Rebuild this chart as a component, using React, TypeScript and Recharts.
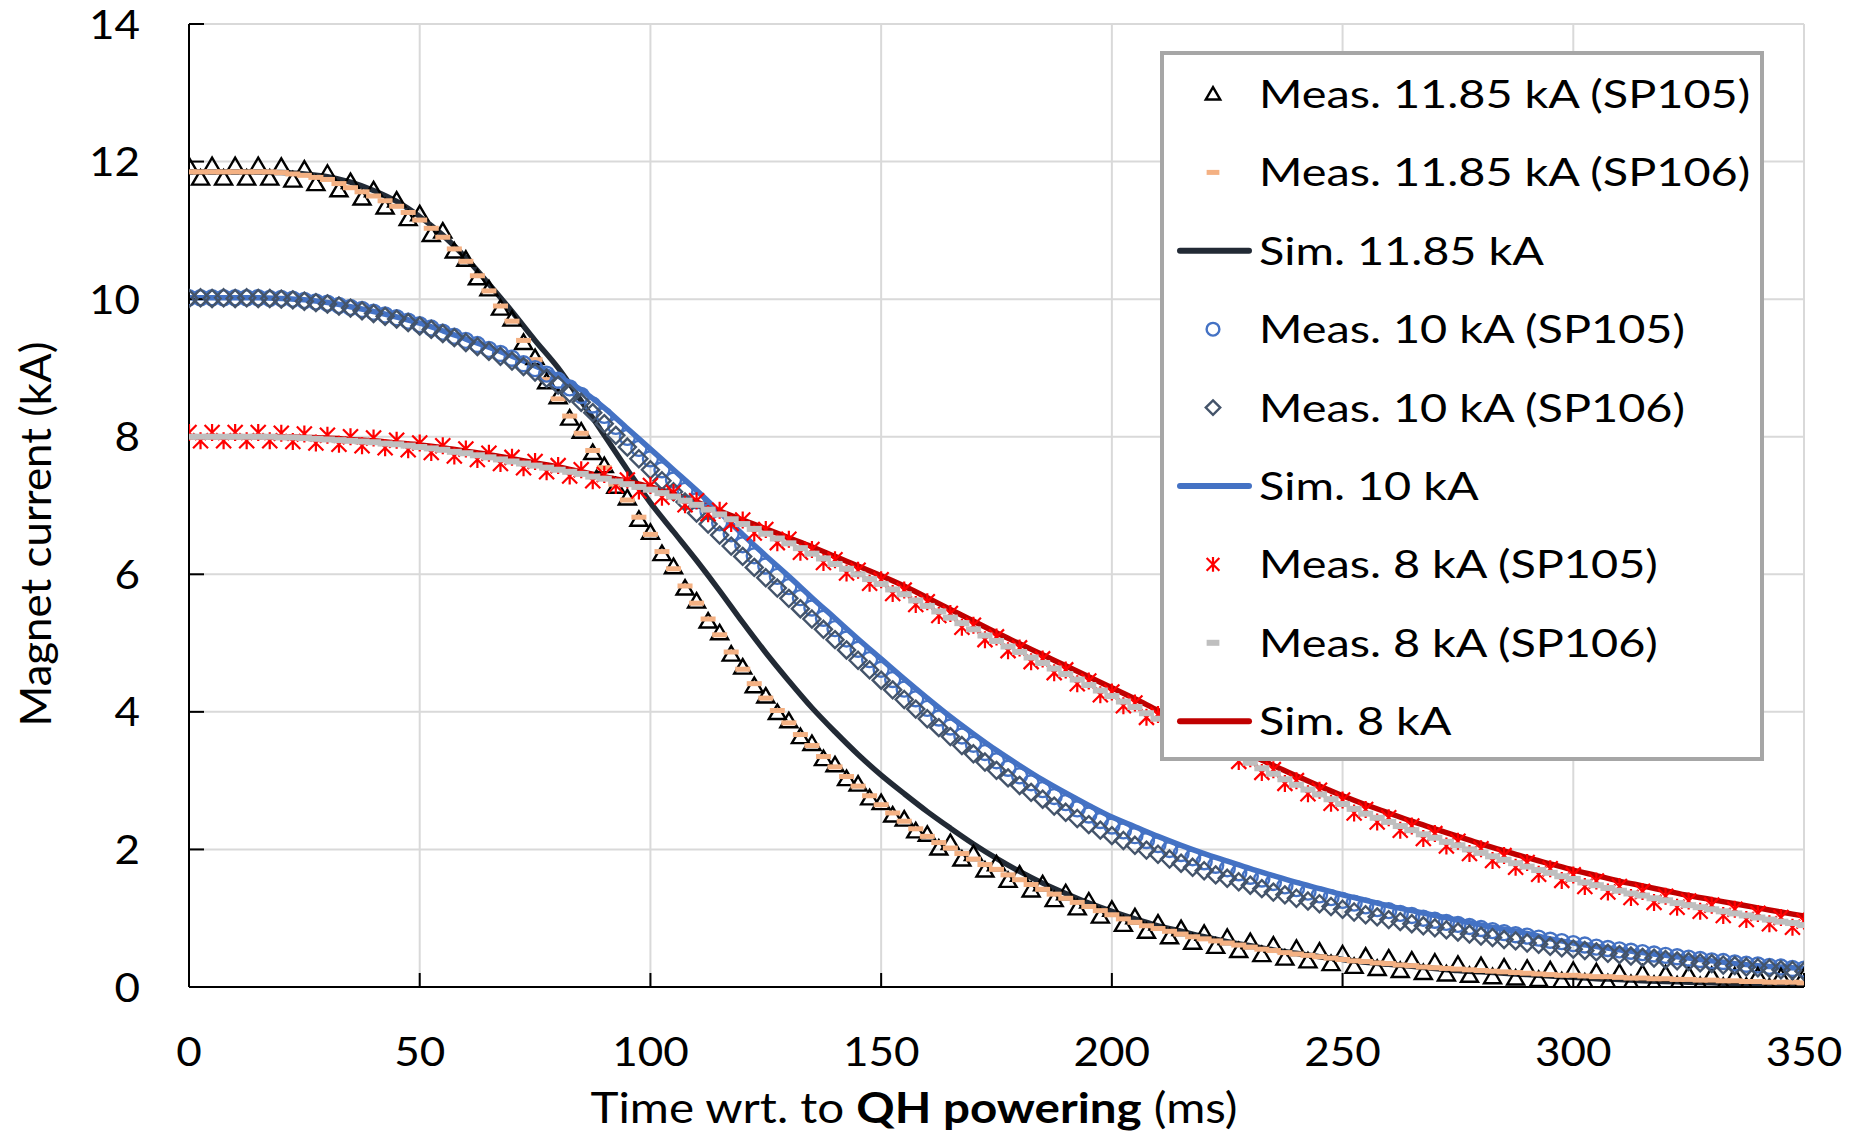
import React from 'react';
import { ComposedChart, Line, XAxis, YAxis, CartesianGrid } from 'recharts';

// sampling times (ms)
const measTime = [
  0, 2.5, 5, 7.5, 10, 12.5, 15, 17.5, 20, 22.5,
  25, 27.5, 30, 32.5, 35, 37.5, 40, 42.5, 45, 47.5,
  50, 52.5, 55, 57.5, 60, 62.5, 65, 67.5, 70, 72.5,
  75, 77.5, 80, 82.5, 85, 87.5, 90, 92.5, 95, 97.5,
  100, 102.5, 105, 107.5, 110, 112.5, 115, 117.5, 120, 122.5,
  125, 127.5, 130, 132.5, 135, 137.5, 140, 142.5, 145, 147.5,
  150, 152.5, 155, 157.5, 160, 162.5, 165, 167.5, 170, 172.5,
  175, 177.5, 180, 182.5, 185, 187.5, 190, 192.5, 195, 197.5,
  200, 202.5, 205, 207.5, 210, 212.5, 215, 217.5, 220, 222.5,
  225, 227.5, 230, 232.5, 235, 237.5, 240, 242.5, 245, 247.5,
  250, 252.5, 255, 257.5, 260, 262.5, 265, 267.5, 270, 272.5,
  275, 277.5, 280, 282.5, 285, 287.5, 290, 292.5, 295, 297.5,
  300, 302.5, 305, 307.5, 310, 312.5, 315, 317.5, 320, 322.5,
  325, 327.5, 330, 332.5, 335, 337.5, 340, 342.5, 345, 347.5,
  350,
];

const simTime = [
  0, 5, 10, 15, 20, 25, 30, 35, 40, 45,
  50, 55, 60, 65, 70, 75, 80, 85, 90, 95,
  100, 105, 110, 115, 120, 125, 130, 135, 140, 145,
  150, 155, 160, 165, 170, 175, 180, 185, 190, 195,
  200, 205, 210, 215, 220, 225, 230, 235, 240, 245,
  250, 255, 260, 265, 270, 275, 280, 285, 290, 295,
  300, 305, 310, 315, 320, 325, 330, 335, 340, 345,
  350,
];

// measured current (kA)
const meas1185SP105 = [
  11.94, 11.76, 11.94, 11.76, 11.94, 11.76, 11.94, 11.76, 11.93, 11.73,
  11.89, 11.68, 11.83, 11.59, 11.71, 11.47, 11.59, 11.34, 11.44, 11.17,
  11.24, 10.94, 10.99, 10.70, 10.58, 10.31, 10.15, 9.87, 9.71, 9.37,
  9.15, 8.80, 8.58, 8.27, 8.08, 7.77, 7.58, 7.28, 7.11, 6.80,
  6.61, 6.30, 6.11, 5.80, 5.61, 5.32, 5.15, 4.84, 4.65, 4.38,
  4.23, 3.99, 3.87, 3.64, 3.54, 3.32, 3.23, 3.03, 2.95, 2.75,
  2.68, 2.50, 2.44, 2.27, 2.22, 2.02, 2.10, 1.86, 1.94, 1.70,
  1.79, 1.55, 1.64, 1.41, 1.50, 1.27, 1.37, 1.15, 1.25, 1.03,
  1.13, 0.91, 1.02, 0.81, 0.93, 0.73, 0.85, 0.65, 0.78, 0.59,
  0.72, 0.53, 0.66, 0.47, 0.61, 0.42, 0.56, 0.38, 0.52, 0.34,
  0.48, 0.30, 0.45, 0.27, 0.42, 0.24, 0.39, 0.21, 0.36, 0.19,
  0.33, 0.17, 0.31, 0.15, 0.29, 0.13, 0.27, 0.11, 0.25, 0.09,
  0.24, 0.07, 0.22, 0.06, 0.21, 0.05, 0.20, 0.04, 0.19, 0.03,
  0.18, 0.02, 0.17, 0.01, 0.16, 0.01, 0.16, 0.00, 0.15, 0.00,
  0.15,
];

const meas1185SP106 = [
  11.85, 11.85, 11.85, 11.85, 11.85, 11.85, 11.85, 11.85, 11.84, 11.82,
  11.80, 11.77, 11.74, 11.68, 11.62, 11.56, 11.50, 11.43, 11.35, 11.26,
  11.15, 11.03, 10.90, 10.73, 10.55, 10.34, 10.12, 9.90, 9.68, 9.40,
  9.12, 8.83, 8.55, 8.30, 8.05, 7.80, 7.55, 7.31, 7.08, 6.83,
  6.58, 6.33, 6.08, 5.83, 5.58, 5.35, 5.12, 4.87, 4.62, 4.41,
  4.20, 4.02, 3.84, 3.67, 3.51, 3.35, 3.20, 3.06, 2.92, 2.78,
  2.65, 2.53, 2.41, 2.30, 2.19, 2.10, 2.02, 1.94, 1.86, 1.78,
  1.71, 1.63, 1.56, 1.49, 1.42, 1.35, 1.29, 1.23, 1.17, 1.11,
  1.05, 0.99, 0.94, 0.89, 0.85, 0.81, 0.77, 0.73, 0.70, 0.67,
  0.64, 0.61, 0.58, 0.55, 0.53, 0.50, 0.48, 0.46, 0.44, 0.42,
  0.40, 0.38, 0.37, 0.35, 0.34, 0.32, 0.31, 0.29, 0.28, 0.27,
  0.26, 0.25, 0.24, 0.23, 0.22, 0.21, 0.20, 0.19, 0.18, 0.17,
  0.17, 0.16, 0.15, 0.15, 0.14, 0.13, 0.13, 0.12, 0.12, 0.11,
  0.11, 0.10, 0.10, 0.09, 0.09, 0.08, 0.08, 0.07, 0.07, 0.07,
  0.06,
];

const meas10SP105 = [
  10.02, 10.02, 10.02, 10.02, 10.02, 10.02, 10.02, 10.01, 10.01, 10.00,
  9.98, 9.96, 9.94, 9.91, 9.88, 9.85, 9.81, 9.77, 9.73, 9.68,
  9.63, 9.58, 9.52, 9.46, 9.40, 9.34, 9.27, 9.21, 9.14, 9.06,
  8.99, 8.91, 8.82, 8.71, 8.60, 8.46, 8.31, 8.15, 7.99, 7.83,
  7.68, 7.52, 7.37, 7.22, 7.07, 6.91, 6.75, 6.59, 6.43, 6.27,
  6.12, 5.97, 5.82, 5.66, 5.51, 5.36, 5.21, 5.06, 4.91, 4.76,
  4.62, 4.47, 4.33, 4.19, 4.05, 3.91, 3.78, 3.65, 3.53, 3.41,
  3.29, 3.18, 3.07, 2.97, 2.87, 2.77, 2.68, 2.59, 2.50, 2.42,
  2.34, 2.27, 2.20, 2.13, 2.07, 2.00, 1.94, 1.88, 1.82, 1.77,
  1.72, 1.66, 1.61, 1.57, 1.52, 1.47, 1.43, 1.38, 1.34, 1.30,
  1.26, 1.22, 1.18, 1.14, 1.11, 1.07, 1.04, 1.00, 0.97, 0.94,
  0.91, 0.88, 0.85, 0.82, 0.79, 0.76, 0.74, 0.71, 0.68, 0.66,
  0.63, 0.61, 0.58, 0.56, 0.54, 0.52, 0.50, 0.48, 0.46, 0.44,
  0.42, 0.40, 0.38, 0.37, 0.35, 0.33, 0.32, 0.30, 0.29, 0.27,
  0.26,
];

const meas10SP106 = [
  10.01, 10.02, 10.01, 10.02, 10.01, 10.02, 10.01, 10.01, 10.00, 9.99,
  9.97, 9.95, 9.93, 9.90, 9.87, 9.83, 9.79, 9.75, 9.71, 9.66,
  9.61, 9.56, 9.50, 9.44, 9.37, 9.31, 9.24, 9.17, 9.10, 9.02,
  8.94, 8.85, 8.75, 8.63, 8.50, 8.35, 8.19, 8.02, 7.85, 7.68,
  7.52, 7.36, 7.20, 7.05, 6.89, 6.73, 6.57, 6.41, 6.26, 6.10,
  5.95, 5.80, 5.65, 5.50, 5.35, 5.20, 5.05, 4.90, 4.75, 4.61,
  4.46, 4.32, 4.18, 4.04, 3.90, 3.77, 3.64, 3.51, 3.39, 3.27,
  3.15, 3.04, 2.93, 2.83, 2.73, 2.63, 2.54, 2.45, 2.36, 2.28,
  2.20, 2.13, 2.06, 1.99, 1.93, 1.86, 1.80, 1.74, 1.69, 1.63,
  1.58, 1.53, 1.48, 1.43, 1.38, 1.34, 1.29, 1.25, 1.21, 1.17,
  1.13, 1.09, 1.05, 1.02, 0.98, 0.95, 0.92, 0.89, 0.86, 0.83,
  0.80, 0.77, 0.74, 0.72, 0.69, 0.67, 0.64, 0.62, 0.59, 0.57,
  0.55, 0.53, 0.51, 0.49, 0.47, 0.45, 0.43, 0.42, 0.40, 0.38,
  0.37, 0.35, 0.34, 0.32, 0.31, 0.29, 0.28, 0.27, 0.25, 0.24,
  0.23,
];

const meas8SP105 = [
  8.06, 7.94, 8.06, 7.94, 8.06, 7.94, 8.06, 7.94, 8.05, 7.93,
  8.04, 7.91, 8.02, 7.89, 8.00, 7.87, 7.98, 7.84, 7.95, 7.81,
  7.91, 7.77, 7.87, 7.72, 7.82, 7.67, 7.76, 7.61, 7.70, 7.55,
  7.64, 7.49, 7.58, 7.43, 7.52, 7.36, 7.45, 7.29, 7.37, 7.21,
  7.29, 7.12, 7.19, 7.01, 7.07, 6.88, 6.93, 6.74, 6.79, 6.60,
  6.65, 6.46, 6.51, 6.32, 6.36, 6.17, 6.21, 6.02, 6.06, 5.87,
  5.92, 5.72, 5.77, 5.56, 5.60, 5.40, 5.43, 5.23, 5.26, 5.05,
  5.09, 4.89, 4.93, 4.73, 4.77, 4.57, 4.61, 4.41, 4.45, 4.25,
  4.29, 4.09, 4.13, 3.92, 3.96, 3.76, 3.80, 3.60, 3.64, 3.44,
  3.48, 3.28, 3.32, 3.12, 3.16, 2.96, 3.00, 2.81, 2.86, 2.67,
  2.72, 2.53, 2.58, 2.40, 2.46, 2.28, 2.34, 2.16, 2.23, 2.05,
  2.12, 1.94, 2.01, 1.84, 1.91, 1.74, 1.81, 1.64, 1.72, 1.55,
  1.63, 1.46, 1.54, 1.38, 1.46, 1.30, 1.39, 1.23, 1.32, 1.16,
  1.25, 1.10, 1.19, 1.04, 1.13, 0.98, 1.07, 0.92, 1.01, 0.87,
  0.96,
];

const meas8SP106 = [
  8.00, 8.00, 8.00, 8.00, 8.00, 8.00, 8.00, 8.00, 7.99, 7.99,
  7.98, 7.97, 7.96, 7.95, 7.94, 7.93, 7.92, 7.90, 7.89, 7.87,
  7.85, 7.83, 7.81, 7.78, 7.76, 7.73, 7.70, 7.67, 7.64, 7.61,
  7.58, 7.55, 7.52, 7.49, 7.46, 7.42, 7.39, 7.35, 7.31, 7.27,
  7.23, 7.18, 7.13, 7.07, 7.01, 6.94, 6.87, 6.80, 6.73, 6.66,
  6.59, 6.52, 6.45, 6.38, 6.30, 6.23, 6.15, 6.08, 6.00, 5.93,
  5.86, 5.78, 5.71, 5.62, 5.54, 5.46, 5.37, 5.29, 5.20, 5.11,
  5.03, 4.95, 4.87, 4.79, 4.71, 4.63, 4.55, 4.47, 4.39, 4.31,
  4.23, 4.15, 4.07, 3.98, 3.90, 3.82, 3.74, 3.66, 3.58, 3.50,
  3.42, 3.34, 3.26, 3.18, 3.10, 3.02, 2.94, 2.87, 2.80, 2.73,
  2.66, 2.59, 2.52, 2.46, 2.40, 2.34, 2.28, 2.22, 2.17, 2.11,
  2.06, 2.00, 1.95, 1.90, 1.85, 1.80, 1.75, 1.70, 1.66, 1.61,
  1.57, 1.52, 1.48, 1.44, 1.40, 1.36, 1.33, 1.29, 1.26, 1.22,
  1.19, 1.16, 1.13, 1.10, 1.07, 1.04, 1.01, 0.98, 0.95, 0.93,
  0.90,
];

// simulated current (kA)
const sim1185 = [
  11.85, 11.85, 11.85, 11.85, 11.84, 11.82, 11.78, 11.70, 11.58, 11.42,
  11.20, 10.93, 10.60, 10.22, 9.82, 9.40, 9.00, 8.52, 8.02, 7.52,
  7.04, 6.62, 6.20, 5.76, 5.30, 4.86, 4.45, 4.06, 3.71, 3.38,
  3.08, 2.81, 2.55, 2.31, 2.08, 1.87, 1.68, 1.51, 1.36, 1.22,
  1.10, 0.99, 0.89, 0.81, 0.73, 0.66, 0.60, 0.54, 0.49, 0.44,
  0.40, 0.36, 0.33, 0.30, 0.27, 0.24, 0.22, 0.20, 0.18, 0.16,
  0.14, 0.12, 0.11, 0.09, 0.08, 0.07, 0.06, 0.05, 0.04, 0.03,
  0.03,
];

const sim10 = [
  10.02, 10.02, 10.02, 10.02, 10.01, 9.99, 9.95, 9.89, 9.82, 9.74,
  9.65, 9.54, 9.42, 9.30, 9.17, 9.03, 8.88, 8.68, 8.42, 8.12,
  7.82, 7.52, 7.22, 6.90, 6.58, 6.27, 5.97, 5.66, 5.36, 5.06,
  4.77, 4.48, 4.20, 3.93, 3.68, 3.44, 3.22, 3.01, 2.82, 2.64,
  2.47, 2.33, 2.19, 2.06, 1.94, 1.83, 1.72, 1.62, 1.52, 1.43,
  1.34, 1.26, 1.18, 1.11, 1.04, 0.97, 0.90, 0.84, 0.78, 0.70,
  0.64, 0.59, 0.54, 0.50, 0.46, 0.42, 0.38, 0.34, 0.31, 0.29,
  0.27,
];

const sim8 = [
  8.00, 8.00, 8.00, 8.00, 8.00, 7.99, 7.98, 7.96, 7.94, 7.91,
  7.88, 7.84, 7.79, 7.74, 7.68, 7.62, 7.56, 7.49, 7.42, 7.35,
  7.27, 7.17, 7.05, 6.92, 6.79, 6.66, 6.53, 6.40, 6.26, 6.12,
  5.98, 5.83, 5.66, 5.49, 5.32, 5.15, 4.99, 4.83, 4.67, 4.51,
  4.35, 4.19, 4.02, 3.86, 3.70, 3.54, 3.38, 3.22, 3.07, 2.92,
  2.78, 2.65, 2.53, 2.41, 2.30, 2.19, 2.08, 1.98, 1.88, 1.79,
  1.70, 1.62, 1.54, 1.47, 1.40, 1.33, 1.27, 1.21, 1.15, 1.09,
  1.03,
];

const seriesNames = [
  'Meas. 11.85 kA (SP105)',
  'Meas. 11.85 kA (SP106)',
  'Sim. 11.85 kA',
  'Meas. 10 kA (SP105)',
  'Meas. 10 kA (SP106)',
  'Sim. 10 kA',
  'Meas. 8 kA (SP105)',
  'Meas. 8 kA (SP106)',
  'Sim. 8 kA',
];

const xTicks = [0, 50, 100, 150, 200, 250, 300, 350];
const yTicks = [0, 2, 4, 6, 8, 10, 12, 14];

const FONT = 'Lato, "Open Sans", sans-serif';

const toPoints = (times: number[], values: number[]) =>
  values.map((v, i) => ({ t: times[i], v }));

// --- marker shapes (s = size factor) ---
type Shape = (cx: number, cy: number, key?: string, s?: number) => JSX.Element;

const triangle: Shape = (cx, cy, key, s = 1) => (
  <path key={key} d={`M${cx},${cy - 8 * s}L${cx + 8.5 * s},${cy + 6.5 * s}L${cx - 8.5 * s},${cy + 6.5 * s}Z`}
    fill="none" stroke="#000" strokeWidth={2.4} strokeLinejoin="miter" />
);
const salmonDash: Shape = (cx, cy, key, s = 1) => (
  <rect key={key} x={cx - 7.5 * s} y={cy - 2.5} width={15 * s} height={5} fill="#F4B183" />
);
const circle: Shape = (cx, cy, key, s = 1) => (
  <circle key={key} cx={cx} cy={cy} r={7.5 * s} fill="none" stroke="#4472C4" strokeWidth={2.4} />
);
const diamond: Shape = (cx, cy, key, s = 1) => (
  <path key={key} d={`M${cx},${cy - 8.5 * s}L${cx + 8.5 * s},${cy}L${cx},${cy + 8.5 * s}L${cx - 8.5 * s},${cy}Z`}
    fill="none" stroke="#44546A" strokeWidth={2.4} />
);
const star: Shape = (cx, cy, key, s = 1) => {
  const a = 7.5 * s;
  return (
    <path key={key}
      d={`M${cx - a},${cy - a}L${cx + a},${cy + a}M${cx - a},${cy + a}L${cx + a},${cy - a}M${cx},${cy - a - 1}L${cx},${cy + a + 1}`}
      fill="none" stroke="#FF0000" strokeWidth={2.2} />
  );
};
const greyDash: Shape = (cx, cy, key, s = 1) => (
  <rect key={key} x={cx - 7.5 * s} y={cy - 3} width={15 * s} height={6} fill="#BFBFBF" />
);

const dotOf = (shape: Shape, tag: string) =>
  (p: any) => shape(p.cx, p.cy, `${tag}-${p.index}`);

const simColors = ['#222A35', '#4472C4', '#C00000'];

// legend icon per entry (null = line)
const legendIcons: (Shape | null)[] = [triangle, salmonDash, null, circle, diamond, null, star, greyDash, null];
const legendLineColor = ['', '', simColors[0], '', '', simColors[1], '', '', simColors[2]];

const XTick = (props: any) => {
  const { x, y, payload } = props;
  return (
    <g transform={`translate(${x},${y + 29}) scale(1.1,1)`}>
      <text x={0} y={0} textAnchor="middle" fontFamily={FONT} fontSize={40} fill="#000">
        {payload.value}
      </text>
    </g>
  );
};

const YTick = (props: any) => {
  const { x, y, payload } = props;
  return (
    <g transform={`translate(${x},${y + 14.5}) scale(1.1,1)`}>
      <text x={0} y={0} textAnchor="end" fontFamily={FONT} fontSize={40} fill="#000">
        {payload.value}
      </text>
    </g>
  );
};

export default function App() {
  const p12a = toPoints(measTime, meas1185SP105);
  const p12b = toPoints(measTime, meas1185SP106);
  const s12 = toPoints(simTime, sim1185);
  const p10a = toPoints(measTime, meas10SP105);
  const p10b = toPoints(measTime, meas10SP106);
  const s10 = toPoints(simTime, sim10);
  const p8a = toPoints(measTime, meas8SP105);
  const p8b = toPoints(measTime, meas8SP106);
  const s8 = toPoints(simTime, sim8);

  const common = {
    dataKey: 'v',
    isAnimationActive: false,
    activeDot: false as const,
    legendType: 'none' as const,
  };

  return (
    <div style={{ position: 'absolute', left: 0, top: 0, width: 1854, height: 1138, background: '#fff' }}>
      <ComposedChart width={1854} height={1138} margin={{ top: 24, right: 50, left: 0, bottom: 0 }}>
        <CartesianGrid stroke="#D9D9D9" strokeWidth={2} />
        <XAxis
          type="number"
          dataKey="t"
          domain={[0, 350]}
          ticks={xTicks}
          interval={0}
          allowDataOverflow
          height={151}
          axisLine={{ stroke: '#000', strokeWidth: 2 }}
          tickLine={{ stroke: '#000', strokeWidth: 2 }}
          tickSize={-14}
          tickMargin={64}
          tick={(p: any) => <XTick {...p} />}
        />
        <YAxis
          type="number"
          domain={[0, 14]}
          ticks={yTicks}
          interval={0}
          allowDataOverflow
          width={189}
          axisLine={{ stroke: '#000', strokeWidth: 2 }}
          tickLine={{ stroke: '#000', strokeWidth: 2 }}
          tickSize={-15}
          tickMargin={64}
          tick={(p: any) => <YTick {...p} />}
        />
        <Line {...common} data={p12a} stroke="none" dot={dotOf(triangle, 'a')} />
        <Line {...common} data={p12b} stroke="none" dot={dotOf(salmonDash, 'b')} />
        <Line {...common} data={s12} type="monotone" stroke={simColors[0]} strokeWidth={5.5} dot={false} />
        <Line {...common} data={p10a} stroke="none" dot={dotOf(circle, 'c')} />
        <Line {...common} data={p10b} stroke="none" dot={dotOf(diamond, 'd')} />
        <Line {...common} data={s10} type="monotone" stroke={simColors[1]} strokeWidth={5.5} dot={false} />
        <Line {...common} data={p8a} stroke="none" dot={dotOf(star, 'e')} />
        <Line {...common} data={p8b} stroke="none" dot={dotOf(greyDash, 'f')} />
        <Line {...common} data={s8} type="monotone" stroke={simColors[2]} strokeWidth={5.5} dot={false} />
      </ComposedChart>

      <svg width={1854} height={1138} style={{ position: 'absolute', left: 0, top: 0, pointerEvents: 'none' }}>
        {/* axis titles */}
        <text x={914} y={1123} textAnchor="middle" fontFamily={FONT} fontSize={42} fill="#000"
          textLength={647} lengthAdjust="spacingAndGlyphs">
          Time wrt. to <tspan fontWeight="bold">QH powering</tspan> (ms)
        </text>
        <text transform="translate(51,534) rotate(-90)" textAnchor="middle" fontFamily={FONT} fontSize={42}
          fill="#000" textLength={385} lengthAdjust="spacingAndGlyphs">
          Magnet current (kA)
        </text>

        {/* legend */}
        <rect x={1162} y={53} width={600} height={706} fill="#fff" stroke="#A6A6A6" strokeWidth={4} />
        {seriesNames.map((name, i) => {
          const rowY = 94 + i * 78.4;
          const icon = legendIcons[i];
          return (
            <g key={name}>
              {icon
                ? icon(1213, rowY, undefined, 0.85)
                : <line x1={1180} x2={1249} y1={rowY} y2={rowY} stroke={legendLineColor[i]} strokeWidth={6} strokeLinecap="round" />}
              <g transform={`translate(1259,${rowY + 14}) scale(1.2,1)`}>
                <text x={0} y={0} fontFamily={FONT} fontSize={39} fill="#000">{name}</text>
              </g>
            </g>
          );
        })}
      </svg>
    </div>
  );
}
